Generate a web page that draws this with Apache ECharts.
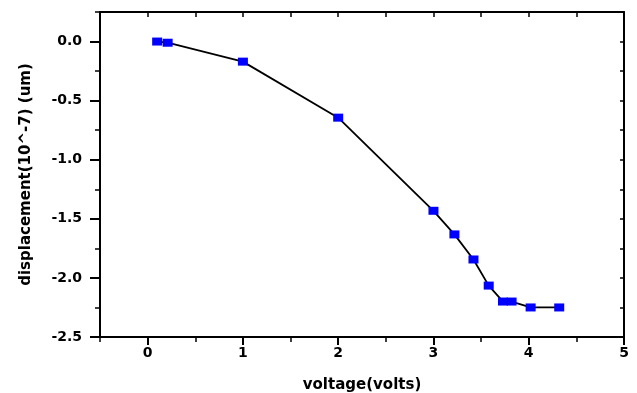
<!DOCTYPE html>
<html>
<head>
<meta charset="utf-8">
<script src="https://cdn.jsdelivr.net/npm/echarts@6/dist/echarts.min.js"></script>
<style>html,body{margin:0;padding:0;background:#fff;}#c{width:637px;height:393px;}</style>
</head>
<body>
<div id="c"></div>
<script>
var voltage = [0.1, 0.21, 1.0, 2.0, 3.0, 3.22, 3.42, 3.58, 3.73, 3.82, 4.02, 4.32];
var displacement = [0.0, -0.01, -0.17, -0.644, -1.432, -1.632, -1.844, -2.065, -2.2, -2.2, -2.25, -2.25];
var xTickLabels = [0, 1, 2, 3, 4, 5];
var yTickLabels = [0.0, -0.5, -1.0, -1.5, -2.0, -2.5];
var xTitle = 'voltage(volts)';
var yTitle = 'displacement(10^-7) (um)';

var data = voltage.map(function (v, i) { return [v, displacement[i]]; });
var font = 'DejaVu Sans';
var chart = echarts.init(document.getElementById('c'), null, {renderer: 'canvas'});
var lineStyle = {color: '#000', width: 2};
chart.setOption({
  animation: false,
  backgroundColor: '#fff',
  grid: {left: 100, right: 13, top: 12, bottom: 56, containLabel: false, outerBoundsMode: 'none'},
  xAxis: [
    {type: 'value', position: 'bottom', min: -0.5, max: 5, interval: 0.5,
     axisLine: {show: true, onZero: false, lineStyle: lineStyle},
     axisTick: {show: true, inside: false, length: 8, customValues: xTickLabels, lineStyle: {color: '#000', width: 2}},
     axisLabel: {show: true, margin: 9, customValues: xTickLabels, color: '#000', fontFamily: font, fontWeight: 'bold', fontSize: 14,
       formatter: function (v) { return String(v); }},
     splitLine: {show: false},
     name: xTitle, nameLocation: 'middle', nameGap: 41,
     nameTextStyle: {color: '#000', fontFamily: font, fontWeight: 'bold', fontSize: 15, verticalAlign: 'top'}},
    {type: 'value', position: 'bottom', min: -0.5, max: 5, interval: 0.5,
     axisLine: {show: false, onZero: false},
     axisTick: {show: true, inside: false, length: 5, lineStyle: {color: '#000', width: 1.5}},
     axisLabel: {show: false}, splitLine: {show: false}},
    {type: 'value', position: 'top', min: -0.5, max: 5, interval: 0.5,
     axisLine: {show: true, onZero: false, lineStyle: lineStyle},
     axisTick: {show: true, inside: true, length: 5, lineStyle: {color: '#000', width: 1.5}},
     axisLabel: {show: false}, splitLine: {show: false}}
  ],
  yAxis: [
    {type: 'value', position: 'left', min: -2.5, max: 0.25, interval: 0.5,
     axisLine: {show: true, onZero: false, lineStyle: lineStyle},
     axisTick: {show: true, inside: false, length: 10, customValues: yTickLabels, lineStyle: {color: '#000', width: 2}},
     axisLabel: {show: true, margin: 18, customValues: yTickLabels, color: '#000', fontFamily: font, fontWeight: 'bold', fontSize: 14,
       formatter: function (v) { return v.toFixed(1); }},
     splitLine: {show: false},
     name: yTitle, nameLocation: 'middle', nameGap: 66, nameRotate: 90,
     nameTextStyle: {color: '#000', fontFamily: font, fontWeight: 'bold', fontSize: 15}},
    {type: 'value', position: 'left', min: -2.5, max: 0.25, interval: 0.25,
     axisLine: {show: false, onZero: false},
     axisTick: {show: true, inside: false, length: 5, lineStyle: {color: '#000', width: 1.5}},
     axisLabel: {show: false}, splitLine: {show: false}},
    {type: 'value', position: 'right', min: -2.5, max: 0.25, interval: 0.25,
     axisLine: {show: true, onZero: false, lineStyle: lineStyle},
     axisTick: {show: true, inside: true, length: 4, lineStyle: {color: '#000', width: 1.5}},
     axisLabel: {show: false}, splitLine: {show: false}}
  ],
  series: [{
    type: 'line', xAxisIndex: 0, yAxisIndex: 0, data: data,
    lineStyle: {color: '#000', width: 1.8},
    symbol: 'rect', symbolSize: [10, 8],
    itemStyle: {color: '#0000ff'},
    z: 5
  }]
});
</script>
</body>
</html>
